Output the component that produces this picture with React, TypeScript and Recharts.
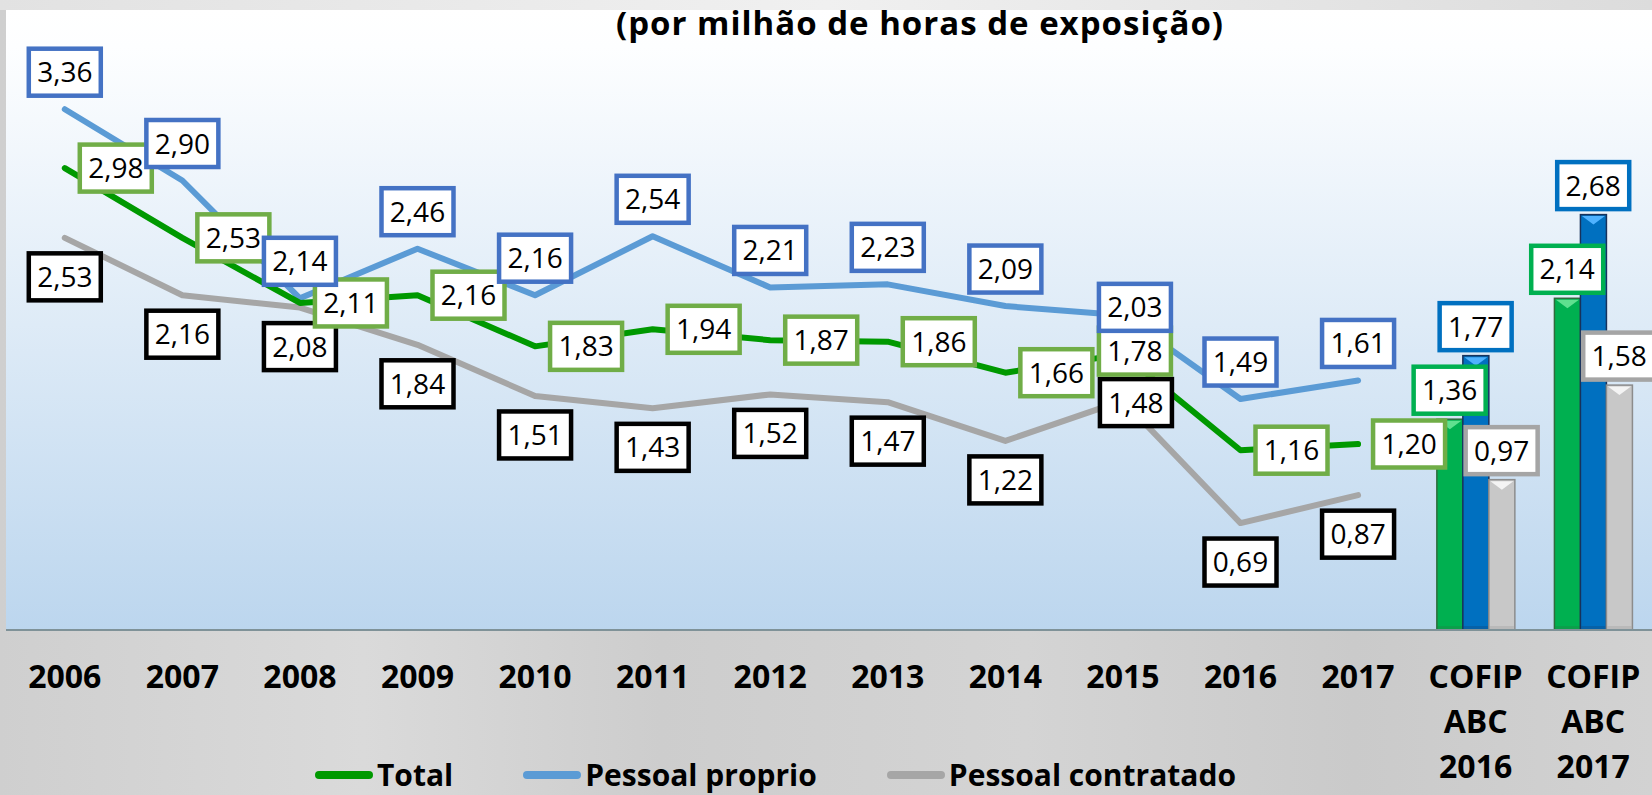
import React from 'react';
import { ComposedChart, Line, Bar, XAxis, YAxis, CartesianGrid, Legend } from 'recharts';

// years + the two COFIP benchmark columns
const categories = [
  '2006', '2007', '2008', '2009', '2010', '2011', '2012', '2013', '2014', '2015', '2016', '2017',
  'COFIP ABC 2016', 'COFIP ABC 2017',
];

const total = [2.98, 2.53, 2.11, 2.16, 1.83, 1.94, 1.87, 1.86, 1.66, 1.78, 1.16, 1.2];
const proprio = [3.36, 2.9, 2.14, 2.46, 2.16, 2.54, 2.21, 2.23, 2.09, 2.03, 1.49, 1.61];
const contratado = [2.53, 2.16, 2.08, 1.84, 1.51, 1.43, 1.52, 1.47, 1.22, 1.48, 0.69, 0.87];

const cofipTotal = [1.36, 2.14];
const cofipProprio = [1.77, 2.68];
const cofipContratado = [0.97, 1.58];

// where each data label sits relative to its point
const totalPlacement = ['right', 'right', 'right', 'right', 'right', 'right', 'right', 'right', 'right', 'mid', 'right', 'right'];
const proprioPlacement = ['top', 'top', 'top', 'top', 'top', 'top', 'top', 'top', 'top', 'midUp', 'top', 'top'];
const contratadoPlacement = ['bottom', 'bottom', 'bottom', 'bottom', 'bottom', 'bottom', 'bottom', 'bottom', 'bottom', 'midDown', 'bottom', 'bottom'];

const OFFSETS: Record<string, [number, number]> = {
  top: [0, -37],
  right: [51, 0],
  bottom: [0, 39],
  mid: [12, -3],
  midUp: [12, -8],
  midDown: [13, 2],
};

const BAR_SIZE = 26;
const FONT = '"Open Sans", "Noto Sans", sans-serif';

const data = categories.map((name, i) => {
  const j = i - total.length;
  return {
    name,
    total: i < total.length ? total[i] : null,
    proprio: i < proprio.length ? proprio[i] : null,
    contratado: i < contratado.length ? contratado[i] : null,
    cofipTotal: j >= 0 ? cofipTotal[j] : null,
    cofipProprio: j >= 0 ? cofipProprio[j] : null,
    cofipContratado: j >= 0 ? cofipContratado[j] : null,
  };
});

const fmt = (v: number) => v.toFixed(2).replace('.', ',');

const LabelBox = ({ x, y, color, text }: { x: number; y: number; color: string; text: string }) => (
  <g>
    <rect x={x - 36} y={y - 23.5} width={72} height={47} fill="#ffffff" stroke={color} strokeWidth={4.5} />
    <text x={x} y={y + 10} textAnchor="middle" fontFamily={FONT} fontSize={28} fill="#000">
      {text}
    </text>
  </g>
);

const lineLabel = (color: string, placement: string[]) => (props: any) => {
  const { cx, cy, index, value } = props;
  if (value == null || cy == null || Number.isNaN(cy)) return <g key={`n-${index}`} />;
  const [dx, dy] = OFFSETS[placement[index]] || [0, 0];
  return (
    <g key={`l-${index}`}>
      <LabelBox x={cx + dx} y={cy + dy} color={color} text={fmt(value)} />
    </g>
  );
};

// bar labels ride on an invisible line; shift by bar slot
const barLabel = (color: string, slot: number) => (props: any) => {
  const { cx, cy, index, value } = props;
  if (value == null || cy == null || Number.isNaN(cy)) return <g key={`n-${index}`} />;
  return (
    <g key={`b-${index}`}>
      <LabelBox x={cx + slot * BAR_SIZE} y={cy - 29} color={color} text={fmt(value)} />
    </g>
  );
};

const bevelBar = (fill: string, light: string, dark: string) => (props: any) => {
  const { x, y, width, height } = props;
  if (!height || height <= 0) return <g />;
  return (
    <g>
      <rect x={x} y={y} width={width} height={height} fill={fill} stroke={dark} strokeWidth={1.5} />
      <rect x={x + 1} y={y + height - 4} width={width - 2} height={3} fill={dark} opacity={0.25} />
      <polygon
        points={`${x + 1.5},${y + 1.5} ${x + width - 1.5},${y + 1.5} ${x + width / 2},${y + 10}`}
        fill={light}
      />
    </g>
  );
};

const CategoryTick = (props: any) => {
  const { x, y, payload } = props;
  const lines = String(payload.value).split(' ');
  return (
    <text x={x} y={y} textAnchor="middle" fontFamily={FONT} fontWeight={700} fontSize={32} fill="#000">
      {lines.map((l, i) => (
        <tspan key={i} x={x} dy={i === 0 ? 50 : 45}>
          {l}
        </tspan>
      ))}
    </text>
  );
};

const legendItems = [
  { label: 'Total', color: '#009900' },
  { label: 'Pessoal proprio', color: '#5b9bd5' },
  { label: 'Pessoal contratado', color: '#a6a6a6' },
];

const renderLegend = () => (
  <div
    style={{
      display: 'flex',
      alignItems: 'center',
      paddingLeft: 315,
      gap: 70,
      fontFamily: FONT,
      fontWeight: 700,
      fontSize: 30,
      lineHeight: '40px',
      color: '#000',
    }}
  >
    {legendItems.map((it) => (
      <div key={it.label} style={{ display: 'flex', alignItems: 'center' }}>
        <span
          style={{ display: 'inline-block', width: 58, height: 8, borderRadius: 4, background: it.color, marginRight: 4 }}
        />
        {it.label}
      </div>
    ))}
  </div>
);

export default function App() {
  return (
    <div
      style={{
        position: 'absolute',
        left: 0,
        top: 0,
        width: 1652,
        height: 795,
        overflow: 'hidden',
        background:
          'linear-gradient(90deg, #cfcfcf 0%, #dadada 22%, #cdcdcd 40%, #d4d4d4 62%, #cacaca 82%, #d2d2d2 100%)',
      }}
    >
      <div
        style={{
          position: 'absolute',
          left: 0,
          top: 0,
          width: 1652,
          height: 10,
          background: 'linear-gradient(90deg, #e2e2e2, #f0f0f0 50%, #dcdcdc)',
        }}
      />
      <ComposedChart
        width={1652}
        height={795}
        data={data}
        margin={{ top: 10, right: 0, left: 6, bottom: 0 }}
        barGap={0}
      >
        <defs>
          <linearGradient id="plotBg" x1="0" y1="0" x2="0" y2="1">
            <stop offset="0" stopColor="#ffffff" />
            <stop offset="0.06" stopColor="#fdfeff" />
            <stop offset="1" stopColor="#bcd6ee" />
          </linearGradient>
        </defs>
        <CartesianGrid horizontal={false} vertical={false} fill="url(#plotBg)" stroke="none" />
        <XAxis
          dataKey="name"
          interval={0}
          height={165}
          tickLine={false}
          axisLine={{ stroke: '#7f9298', strokeWidth: 2 }}
          tick={<CategoryTick />}
        />
        <YAxis hide domain={[0, 4]} />
        <Legend
          layout="horizontal"
          verticalAlign="middle"
          align="center"
          wrapperStyle={{ top: 755, left: 0, width: 1652, height: 40 }}
          content={renderLegend}
        />

        <Line dataKey="contratado" stroke="#a6a6a6" strokeWidth={6} strokeLinecap="round" strokeLinejoin="round" dot={false} activeDot={false} isAnimationActive={false} />
        <Line dataKey="proprio" stroke="#5b9bd5" strokeWidth={6} strokeLinecap="round" strokeLinejoin="round" dot={false} activeDot={false} isAnimationActive={false} />
        <Line dataKey="total" stroke="#009900" strokeWidth={6} strokeLinecap="round" strokeLinejoin="round" dot={false} activeDot={false} isAnimationActive={false} />

        <Bar dataKey="cofipTotal" barSize={BAR_SIZE} fill="#00b050" shape={bevelBar('#00b050', '#5fe08f', '#2f6b3c')} isAnimationActive={false} />
        <Bar dataKey="cofipProprio" barSize={BAR_SIZE} fill="#0070c0" shape={bevelBar('#0070c0', '#4fb2ff', '#17325c')} isAnimationActive={false} />
        <Bar dataKey="cofipContratado" barSize={BAR_SIZE} fill="#c8c8c8" shape={bevelBar('#c8c8c8', '#f4f4f4', '#8c8c8c')} isAnimationActive={false} />

        {/* label layers, drawn above every series */}
        <Line dataKey="contratado" stroke="none" legendType="none" dot={lineLabel('#000000', contratadoPlacement)} activeDot={false} isAnimationActive={false} />
        <Line dataKey="total" stroke="none" legendType="none" dot={lineLabel('#70ad47', totalPlacement)} activeDot={false} isAnimationActive={false} />
        <Line dataKey="proprio" stroke="none" legendType="none" dot={lineLabel('#4472c4', proprioPlacement)} activeDot={false} isAnimationActive={false} />
        <Line dataKey="cofipTotal" stroke="none" legendType="none" dot={barLabel('#00b050', -1)} activeDot={false} isAnimationActive={false} />
        <Line dataKey="cofipProprio" stroke="none" legendType="none" dot={barLabel('#0070c0', 0)} activeDot={false} isAnimationActive={false} />
        <Line dataKey="cofipContratado" stroke="none" legendType="none" dot={barLabel('#a5a5a5', 1)} activeDot={false} isAnimationActive={false} />
      </ComposedChart>
      <div
        style={{
          position: 'absolute',
          left: 188,
          top: 5,
          width: 1464,
          textAlign: 'center',
          fontFamily: FONT,
          fontWeight: 700,
          fontSize: 33,
          letterSpacing: 1,
          lineHeight: '36px',
          color: '#000',
          pointerEvents: 'none',
        }}
      >
        (por milhão de horas de exposição)
      </div>
    </div>
  );
}
